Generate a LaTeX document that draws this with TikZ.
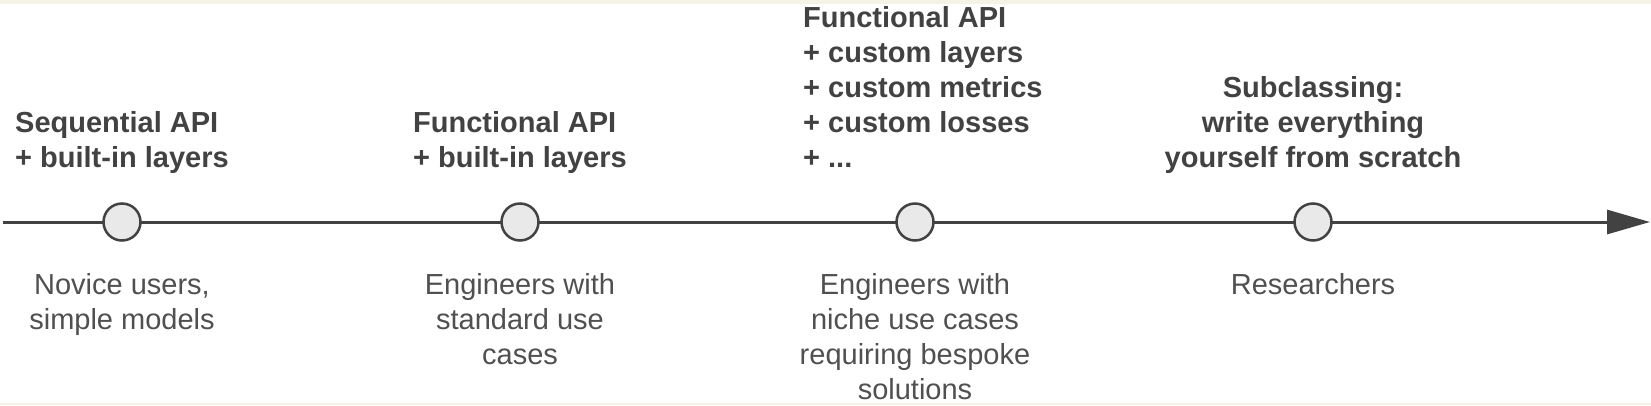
\documentclass[tikz,border=0pt]{standalone}
\usepackage{fontspec}
\setmainfont{Liberation Sans}
\usetikzlibrary{positioning, arrows.meta}

\definecolor{frame}{HTML}{F5F3E6}
\definecolor{ink}{HTML}{424242}
\definecolor{soft}{HTML}{505050}
\definecolor{dot}{HTML}{E8E9E8}

\begin{document}
\begin{tikzpicture}[
    x=1pt, y=-1pt,
    axis/.style={draw=ink, line width=3pt, -{Triangle[length=43pt, width=24pt]}},
    stage/.style={circle, draw=ink, fill=dot, line width=2.5pt, minimum size=37pt, inner sep=0pt},
    toplbl/.style={font=\bfseries\fontsize{29}{35}\selectfont, text=ink, inner sep=0pt},
    botlbl/.style={font=\fontsize{29}{35}\selectfont, text=soft, align=center, inner sep=0pt}
  ]

%% page with the thin cream frame at top and bottom
    \fill[frame] (0,0) rectangle (1651,405);
    \fill[white] (0,3.5) rectangle (1651,402.5);
    \useasboundingbox (0,0) rectangle (1651,405);

%% the time axis, drawn first so the stages sit on top of it
    \coordinate (start) at (3,222);
    \coordinate (tip) at (1650,222);
    \draw[axis] (start) -- (tip);

    \node[stage] (S1) at (122,222) {};
    \node[stage] (S2) at (520,222) {};
    \node[stage] (S3) at (915,222) {};
    \node[stage] (S4) at (1313,222) {};

%% what is used at each stage (base = last line, 55pt above the axis)
    \node[toplbl, align=left, anchor=base west] at ([xshift=-107pt, yshift=55pt]S1) {Sequential API\\+ built-in layers};
    \node[toplbl, align=left, anchor=base west] at ([xshift=-107pt, yshift=55pt]S2) {Functional API\\+ built-in layers};
    \node[toplbl, align=left, anchor=base west] at ([xshift=-112pt, yshift=55pt]S3) {Functional API\\+ custom layers\\+ custom metrics\\+ custom losses\\+ ...};
    \node[toplbl, align=center, anchor=base] at ([yshift=55pt]S4) {Subclassing:\\write everything\\yourself from scratch};

%% who uses it (first line 72pt below the axis, 35pt per line)
    \node[botlbl, anchor=base] at ([yshift=-107pt]S1) {Novice users,\\simple models};
    \node[botlbl, anchor=base] at ([yshift=-142pt]S2) {Engineers with\\standard use\\cases};
    \node[botlbl, anchor=base] at ([yshift=-177pt]S3) {Engineers with\\niche use cases\\requiring bespoke\\solutions};
    \node[botlbl, anchor=base] at ([yshift=-72pt]S4) {Researchers};

\end{tikzpicture}
\end{document}
